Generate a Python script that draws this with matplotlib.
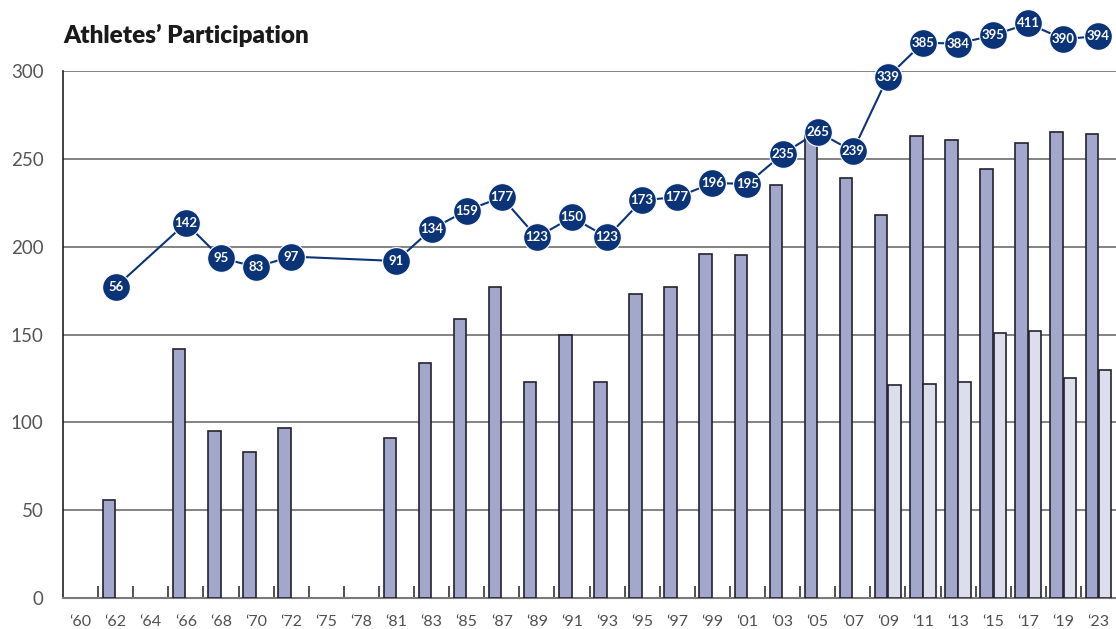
import numpy as np
import matplotlib
import matplotlib.pyplot as plt
matplotlib.use('Agg')

years = ['60', '62', '64', '66', '68', '70', '72', '75', '78', '81', '83', '85',
         '87', '89', '91', '93', '95', '97', '99', '01', '03', '05', '07', '09',
         '11', '13', '15', '17', '19', '23']
men = [0, 56, 0, 142, 95, 83, 97, 0, 0, 91, 134, 159, 177, 123, 150, 123, 173,
       177, 196, 195, 235, 265, 239, 218, 263, 261, 244, 259, 265, 264]
women = [0, 0, 0, 0, 0, 0, 0, 0, 0, 0, 0, 0, 0, 0, 0, 0, 0, 0, 0, 0, 0, 0, 0,
         121, 122, 123, 151, 152, 125, 130]
# line points (years with athletes)
line_idx = [1, 3, 4, 5, 6, 9, 10, 11, 12, 13, 14, 15, 16, 17, 18, 19, 20, 21,
            22, 23, 24, 25, 26, 27, 28, 29]
total = [56, 142, 95, 83, 97, 91, 134, 159, 177, 123, 150, 123, 173, 177, 196,
         195, 235, 265, 239, 339, 385, 384, 395, 411, 390, 394]

plt.rcParams['font.family'] = ['Lato', 'DejaVu Sans']

fig = plt.figure(figsize=(11.16, 6.29), dpi=100)
ax = fig.add_axes([63 / 1116, 31 / 629, 1053 / 1116, 527 / 629])

x = np.arange(len(years))
men = np.array(men)
women = np.array(women)
w = 0.355
off = 0.19
has_m = men > 0
has_w = women > 0
ax.bar(x[has_m] - off, men[has_m], width=w, color='#a3a7cb', edgecolor='#222230',
       linewidth=1.2, zorder=3)
ax.bar(x[has_w] + off, women[has_w], width=w, color='#dcdeec',
       edgecolor='#222230', linewidth=1.2, zorder=3)

ax.set_xlim(-0.5, len(years) - 0.5)
ax.set_ylim(0, 300)
ax.set_yticks([0, 50, 100, 150, 200, 250, 300])
ax.yaxis.grid(True, color='#7a7a7a', linewidth=1.3, zorder=0)
ax.set_axisbelow(True)
ax.tick_params(axis='y', length=0, pad=14, labelsize=13.5, labelcolor='#555555')

ax.set_xticks(x)
ax.set_xticklabels(['\u2018' + y for y in years], fontsize=11.5, color='#505050')
ax.tick_params(axis='x', which='major', length=0, pad=12)
ax.set_xticks(x[:-1] + 0.5, minor=True)
ax.tick_params(axis='x', which='minor', direction='in', length=9, width=1.2, color='#333333')

for s in ['top', 'right']:
    ax.spines[s].set_visible(False)
ax.spines['left'].set_color('#222222')
ax.spines['left'].set_linewidth(1.2)
ax.spines['bottom'].set_color('#7a7a7a')
ax.spines['bottom'].set_linewidth(1.5)

ax2 = ax.twinx()
ax2.set_ylim(-363, 347)
ax2.axis('off')
navy = '#0b3478'
ax2.plot(line_idx, total, color=navy, linewidth=1.5, marker='o', markersize=20,
         markerfacecolor=navy, markeredgecolor='white', markeredgewidth=0.8,
         clip_on=False, zorder=5)
for xi, v in zip(line_idx, total):
    ax2.text(xi, v, str(v), ha='center', va='center', color='white',
             fontsize=9.5, fontweight='bold', zorder=6, clip_on=False)

fig.text(63 / 1116, 1 - 35 / 629, 'Athletes\u2019 Participation', fontsize=17.5,
         fontweight='heavy', color='#1a1a1a', va='center', ha='left')

fig.savefig('out.png', dpi=100)
